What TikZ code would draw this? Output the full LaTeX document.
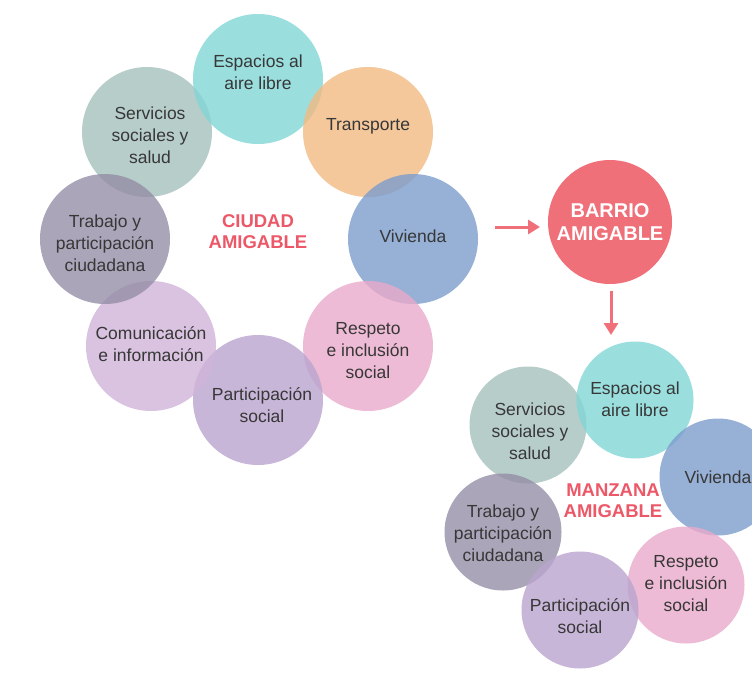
\documentclass[tikz,border=0pt]{standalone}
\usepackage{fontspec}
\setmainfont{Liberation Sans}
\usetikzlibrary{arrows.meta}
\definecolor{cTeal}{RGB}{130,214,214}
\definecolor{cOrange}{RGB}{241,186,130}
\definecolor{cBlue}{RGB}{124,156,204}
\definecolor{cPink}{RGB}{233,170,202}
\definecolor{cLav}{RGB}{186,164,206}
\definecolor{cCom}{RGB}{207,180,216}
\definecolor{cTrab}{RGB}{149,142,167}
\definecolor{cServ}{RGB}{165,193,189}
\definecolor{cRed}{RGB}{240,112,122}
\definecolor{cRedText}{RGB}{236,88,104}
\definecolor{cText}{RGB}{55,55,55}
\tikzset{
  bubble/.style={circle, inner sep=0pt, outer sep=0pt, minimum size=130pt, fill opacity=0.8},
  small/.style={bubble, minimum size=117pt},
  txt/.style={align=center, text=cText, inner sep=0pt, font=\fontsize{17.5}{22}\selectfont},
  title/.style={align=center, text=cRedText, font=\fontsize{18.5}{21}\selectfont\bfseries},
  arr/.style={draw=cRed, line width=3pt, -{Triangle[length=12pt,width=14pt]}}
}
\begin{document}
\begin{tikzpicture}[x=1pt,y=-1pt]
\useasboundingbox (0,0) rectangle (752,680);
% Ciudad amigable ring
\node[bubble, fill=cServ] (c-serv) at (147,132) {};
\node[bubble, fill=cTeal] (c-esp) at (258,79) {};
\node[bubble, fill=cOrange] (c-trans) at (368,132) {};
\node[bubble, fill=cBlue] (c-viv) at (413,239) {};
\node[bubble, fill=cPink] (c-resp) at (368,346) {};
\node[bubble, fill=cLav] (c-part) at (258,400) {};
\node[bubble, fill=cCom] (c-com) at (151,346) {};
\node[bubble, fill=cTrab] (c-trab) at (105,239) {};
\node[txt] (t-serv) at ([shift={(3,3)}]c-serv) {Servicios\\sociales y\\salud};
\node[txt] (t-esp) at ([shift={(0,-7)}]c-esp) {Espacios al\\aire libre};
\node[txt] (t-trans) at ([shift={(0,-6)}]c-trans) {Transporte};
\node[txt] (t-viv) at ([shift={(0,-3)}]c-viv) {Vivienda};
\node[txt] (t-resp) at ([shift={(0,5)}]c-resp) {Respeto\\e inclusión\\social};
\node[txt] (t-part) at ([shift={(4,5)}]c-part) {Participación\\social};
\node[txt] (t-com) at ([shift={(0,-2)}]c-com) {Comunicación\\e información};
\node[txt] (t-trab) at ([shift={(0,4)}]c-trab) {Trabajo y\\participación\\ciudadana};
\node[title] (ciudad) at (258,232) {CIUDAD\\AMIGABLE};
% Barrio
\node[circle, inner sep=0pt, outer sep=0pt, minimum size=124pt, fill=cRed, text=white,
  align=center, font=\fontsize{20}{23}\selectfont\bfseries] (barrio) at (610,222) {BARRIO\\AMIGABLE};
\coordinate (a1) at (495,227);
\coordinate (a2) at (611,335);
\draw[arr, shorten >=8pt] (a1) -- (a1 -| barrio.west);
\draw[arr, shorten <=7pt] (barrio.south -| a2) -- (a2);
% Manzana amigable
\node[small, fill=cServ] (m-serv) at (528,425) {};
\node[small, fill=cTeal] (m-esp) at (635,400) {};
\node[small, fill=cBlue] (m-viv) at (718,477) {};
\node[small, fill=cTrab] (m-trab) at (503,532) {};
\node[small, fill=cPink] (m-resp) at (686,585) {};
\node[small, fill=cLav] (m-part) at (580,610) {};
\node[txt] (u-serv) at ([shift={(2,6)}]m-serv) {Servicios\\sociales y\\salud};
\node[txt] (u-esp) at ([shift={(0,-1)}]m-esp) {Espacios al\\aire libre};
\node[txt] (u-viv) at ([shift={(0,0)}]m-viv) {Vivienda};
\node[txt] (u-trab) at ([shift={(0,1)}]m-trab) {Trabajo y\\participación\\ciudadana};
\node[txt] (u-resp) at ([shift={(0,-1)}]m-resp) {Respeto\\e inclusión\\social};
\node[txt] (u-part) at ([shift={(0,6)}]m-part) {Participación\\social};
\node[title] (manzana) at (613,501) {MANZANA\\AMIGABLE};
\end{tikzpicture}
\end{document}
